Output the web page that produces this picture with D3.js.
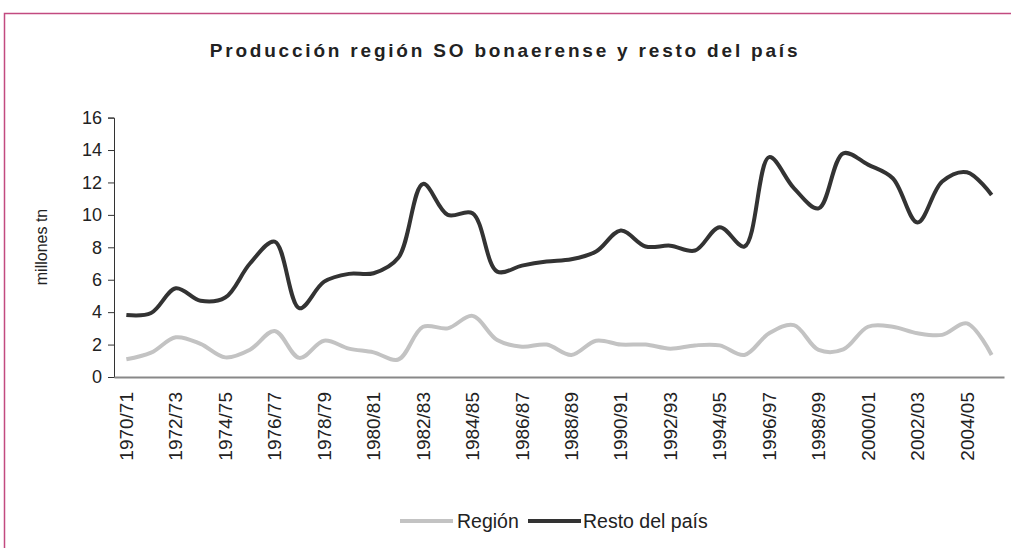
<!DOCTYPE html>
<html>
<head>
<meta charset="utf-8">
<script src="https://cdn.jsdelivr.net/npm/d3@7"></script>
<style>
  body { margin: 0; background: #fff; }
  text { font-family: "Liberation Sans", Arial, sans-serif; fill: #222; }
</style>
</head>
<body>
<div id="chart"></div>
<script>
// campaigns 1970/71 .. 2005/06
var campaigns = ["1970/71","1971/72","1972/73","1973/74","1974/75","1975/76","1976/77","1977/78",
  "1978/79","1979/80","1980/81","1981/82","1982/83","1983/84","1984/85","1985/86","1986/87",
  "1987/88","1988/89","1989/90","1990/91","1991/92","1992/93","1993/94","1994/95","1995/96",
  "1996/97","1997/98","1998/99","1999/00","2000/01","2001/02","2002/03","2003/04","2004/05","2005/06"];

// millones tn
var region = [1.09,1.5,2.45,2.04,1.21,1.68,2.84,1.18,2.24,1.75,1.52,1.08,3.1,3.0,3.77,2.28,1.87,
  2.0,1.36,2.24,2.0,2.0,1.75,1.95,1.95,1.36,2.7,3.2,1.67,1.7,3.1,3.1,2.7,2.6,3.31,1.36];
var resto = [3.83,3.95,5.47,4.7,4.9,7.0,8.35,4.24,5.88,6.36,6.4,7.35,11.91,10.0,10.1,6.5,6.87,
  7.12,7.26,7.74,9.03,8.05,8.1,7.8,9.24,8.05,13.56,11.65,10.4,13.8,13.1,12.26,9.53,12.06,12.63,11.23];

var yTicks = [0,2,4,6,8,10,12,14,16];
var seriesNames = ["Región", "Resto del país"];
var seriesColors = ["#c3c3c3", "#333333"];

var svgWidth = 1011, svgHeight = 548;

var svg = d3.select("#chart").append("svg")
  .attr("width", svgWidth)
  .attr("height", svgHeight);

// outer frame
svg.append("rect")
  .attr("x", 4.5).attr("y", 13.5)
  .attr("width", 1020).attr("height", 560)
  .attr("fill", "none")
  .attr("stroke", "#c24a80")
  .attr("stroke-width", 1.5);

svg.append("text")
  .attr("x", 505).attr("y", 57)
  .attr("text-anchor", "middle")
  .style("font-size", "19px")
  .style("font-weight", "bold")
  .style("letter-spacing", "2.8px")
  .text("Producción región SO bonaerense y resto del país");

var x = d3.scaleBand().domain(campaigns).range([114, 1004]).padding(0);
var y = d3.scaleLinear().domain([0, 16]).range([377, 117.6]);
var cx = function(i) { return x(campaigns[i]) + x.bandwidth() / 2; };

// y axis
var yAxis = svg.append("g")
  .attr("transform", "translate(114,0)")
  .call(d3.axisLeft(y).tickValues(yTicks).tickSize(6).tickPadding(6));
yAxis.select(".domain").attr("stroke", "#333");
yAxis.selectAll(".tick line").attr("stroke", "#333");
yAxis.selectAll("text").style("font-size", "18px").attr("fill", "#222");

// x axis
var xAxis = svg.append("g")
  .attr("transform", "translate(0,377)")
  .call(d3.axisBottom(x)
    .tickValues(campaigns.filter(function(d, i) { return i % 2 === 0; }))
    .tickSize(0));
xAxis.select(".domain").attr("stroke", "#888").attr("stroke-width", 2);
xAxis.selectAll("text")
  .style("font-size", "19px")
  .attr("fill", "#222")
  .attr("text-anchor", "end")
  .attr("transform", "rotate(-90)")
  .attr("x", -15)
  .attr("y", 0)
  .attr("dy", "0.35em");

svg.append("text")
  .attr("transform", "translate(47,247) rotate(-90)")
  .attr("text-anchor", "middle")
  .style("font-size", "16px")
  .text("millones tn");

var line = d3.line()
  .x(function(d, i) { return cx(i); })
  .y(function(d) { return y(d); })
  .curve(d3.curveCatmullRom.alpha(0.5));

[region, resto].forEach(function(s, k) {
  svg.append("path")
    .datum(s)
    .attr("fill", "none")
    .attr("stroke", seriesColors[k])
    .attr("stroke-width", 4)
    .attr("stroke-linejoin", "round")
    .attr("d", line);
});

// legend
var legend = [{x0: 400, x1: 453, tx: 457}, {x0: 528, x1: 581, tx: 583}];
legend.forEach(function(l, k) {
  svg.append("line")
    .attr("x1", l.x0).attr("x2", l.x1)
    .attr("y1", 521).attr("y2", 521)
    .attr("stroke", seriesColors[k])
    .attr("stroke-width", 4);
  svg.append("text")
    .attr("x", l.tx).attr("y", 528)
    .style("font-size", "19.5px")
    .text(seriesNames[k]);
});
</script>
</body>
</html>
